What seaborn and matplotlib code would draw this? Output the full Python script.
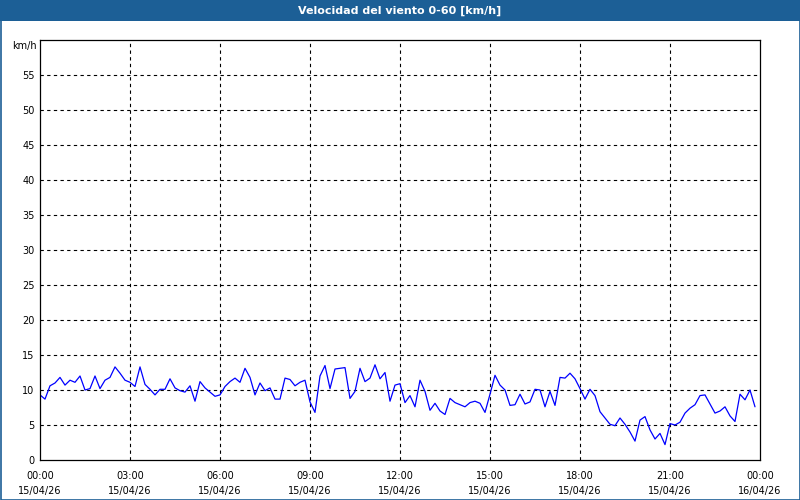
import numpy as np
import pandas as pd
import matplotlib
matplotlib.use("Agg")
import matplotlib.pyplot as plt
from matplotlib.patches import Rectangle
import seaborn as sns

title = "Velocidad del viento 0-60 [km/h]"
unit_label = "km/h"

# 10-minute samples, 00:00 .. 23:50
wind_kmh = [
    9.3, 8.7, 10.6, 11.0, 11.8, 10.7, 11.4, 11.1, 12.0, 10.0, 10.2, 12.0, 10.2, 11.4, 11.8, 13.3,
    12.4, 11.4, 11.1, 10.5, 13.3, 10.8, 10.1, 9.3, 10.1,
    10.1, 11.6, 10.3, 9.9, 9.7, 10.6, 8.4, 11.2, 10.3, 9.7, 9.1, 9.3, 10.5, 11.2, 11.7, 11.1,
    13.1, 11.8, 9.3, 11.0, 9.9, 10.3, 8.7, 8.7,
    11.7, 11.5, 10.6, 11.1, 11.4, 8.3, 6.8, 12.0, 13.5, 10.2, 13.0, 13.1, 13.2, 8.8, 9.8, 13.1,
    11.2, 11.7, 13.6, 11.6, 12.5, 8.4, 10.7, 10.9,
    8.2, 9.2, 7.6, 11.4, 9.8, 7.1, 8.1, 7.0, 6.5, 8.8, 8.2, 7.9, 7.6, 8.2, 8.4, 8.1,
    6.8, 9.4, 12.1, 10.7, 10.0, 7.8, 7.9, 9.4,
    8.0, 8.3, 10.1, 10.0, 7.6, 9.8, 7.8, 11.8, 11.7, 12.4, 11.6, 10.2, 8.7, 10.1, 9.2, 6.9,
    6.0, 5.1, 4.9, 6.0, 5.1, 4.0, 2.7, 5.7,
    6.2, 4.3, 3.0, 3.8, 2.2, 5.2, 5.0, 5.4, 6.7, 7.4, 7.9, 9.2, 9.3, 8.0, 6.7, 7.0,
    7.6, 6.3, 5.5, 9.4, 8.6, 10.0, 7.6,
]
sample_minutes = 10
hours = [i * sample_minutes / 60 for i in range(len(wind_kmh))]

x_ticks = [0, 3, 6, 9, 12, 15, 18, 21, 24]
x_tick_labels = ["00:00\n15/04/26", "03:00\n15/04/26", "06:00\n15/04/26", "09:00\n15/04/26",
                 "12:00\n15/04/26", "15:00\n15/04/26", "18:00\n15/04/26", "21:00\n15/04/26",
                 "00:00\n16/04/26"]
x_minor_ticks = list(range(0, 25))
y_ticks = [0, 5, 10, 15, 20, 25, 30, 35, 40, 45, 50, 55]
y_max = 60

df = pd.DataFrame({"hour": hours, "wind": wind_kmh})

sns.set_style("white")
plt.rcParams["font.family"] = ["DejaVu Sans"]
plt.rcParams["text.color"] = "black"
plt.rcParams["xtick.color"] = "black"
plt.rcParams["ytick.color"] = "black"

W, H = 800, 500
fig = plt.figure(figsize=(8, 5), dpi=100, facecolor="white")
ax = fig.add_axes([40 / W, 1 - 460 / H, 720 / W, 420 / H])
ax.set_facecolor("white")

sns.lineplot(data=df, x="hour", y="wind", ax=ax, color="#0000ff", linewidth=0.9)

ax.set_xlim(0, 24)
ax.set_ylim(0, y_max)
ax.set_xticks(x_ticks)
ax.set_xticklabels(x_tick_labels, fontsize=7, linespacing=1.6, color="black")
ax.set_xticks(x_minor_ticks, minor=True)
ax.set_yticks(y_ticks)
ax.set_yticklabels([str(v) for v in y_ticks], fontsize=7, color="black")
ax.set_xlabel("")
ax.set_ylabel("")

ax.tick_params(axis="x", which="both", direction="out", length=3, width=0.8, color="black", pad=5)
ax.tick_params(axis="y", which="both", length=0, pad=4)

# dashed grid (skip the borders)
for yv in y_ticks[1:]:
    ax.axhline(yv, color="black", lw=0.8, ls=(0, (3, 3)), zorder=0.5)
for xv in x_ticks[1:-1]:
    ax.axvline(xv, color="black", lw=0.8, ls=(0, (3, 3)), zorder=0.5)

for sp in ax.spines.values():
    sp.set_visible(True)
    sp.set_color("black")
    sp.set_linewidth(0.9)

fig.text(37 / W, 1 - 46 / H, unit_label, ha="right", va="center", fontsize=7, color="black")

# title bar and frame
bar_h = 21 / H
fig.patches.append(Rectangle((0, 1 - bar_h), 1, bar_h, transform=fig.transFigure,
                             facecolor="#1c5f96", edgecolor="none", zorder=0))
fig.text(0.5, 1 - bar_h / 2, title, ha="center", va="center", color="white",
         fontsize=8, fontweight="bold")
fig.patches.append(Rectangle((0.5 / W, 0.5 / H), 1 - 1 / W, 1 - 1 / H, transform=fig.transFigure,
                             facecolor="none", edgecolor="#1c5f96", linewidth=1.2, zorder=5))

fig.savefig("out.png", dpi=100, facecolor="white")
